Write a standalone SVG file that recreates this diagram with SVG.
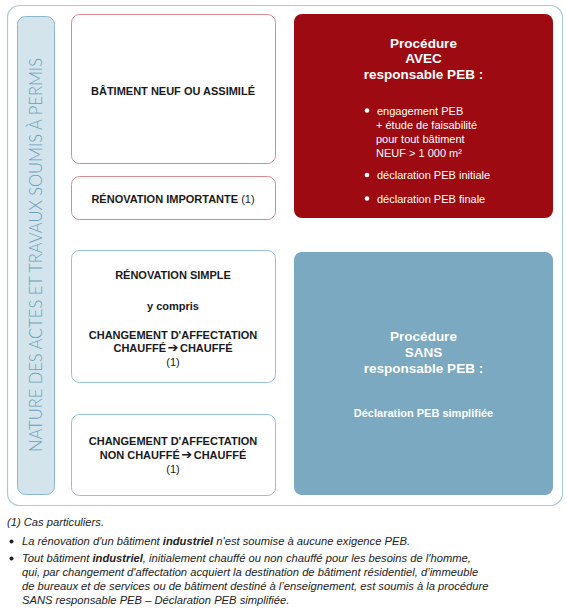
<svg xmlns="http://www.w3.org/2000/svg" width="567" height="609" viewBox="0 0 567 609">
<style>
.t{font-family:"Liberation Sans",Arial,sans-serif;}
.b{font-weight:bold;font-size:11px;fill:#1a1a1a;text-anchor:middle;}
.n{font-weight:normal;}
.wh{fill:#ffffff;font-weight:bold;font-size:13.5px;text-anchor:middle;}
.ws{fill:#ffffff;font-weight:bold;font-size:11px;text-anchor:middle;}
.wl{fill:#ffffff;font-size:11px;}
.ft{font-size:11.2px;font-style:italic;fill:#222222;}
.redbox{fill:#ffffff;stroke:#d58a90;stroke-width:1;}
.bluebox{fill:#ffffff;stroke:#97c0d3;stroke-width:1;}
.arr{font-family:"DejaVu Sans",sans-serif;font-size:13px;}
</style>
<g id="frame">
<rect x="7.5" y="5.5" width="555" height="500" rx="12" fill="#ffffff" stroke="#aacbd9" stroke-width="1.2"/>
</g>
<g id="side-label">
<rect x="17.5" y="16.5" width="37" height="478" rx="8" fill="#d3e4ed" stroke="#8cb6c9" stroke-width="1"/>
<text transform="translate(42,255) rotate(-90)" text-anchor="middle" font-family="Lato,'Open Sans',sans-serif" font-weight="300" font-size="18.5" fill="#6b9fba" textLength="394" lengthAdjust="spacingAndGlyphs">NATURE DES ACTES ET TRAVAUX SOUMIS À PERMIS</text>
</g>
<g id="batiment-neuf">
<rect class="redbox" x="71.5" y="14.5" width="204" height="149" rx="8"/>
<text class="t b" x="173" y="95">BÂTIMENT NEUF OU ASSIMILÉ</text>
</g>
<g id="renovation-importante">
<rect class="redbox" x="71.5" y="176.5" width="204" height="43" rx="8"/>
<text class="t b" x="173" y="203">RÉNOVATION IMPORTANTE <tspan class="n">(1)</tspan></text>
</g>
<g id="procedure-avec">
<rect x="294" y="14" width="259" height="204" rx="8" fill="#9d0a12"/>
<text class="t wh" x="423.5" y="47.5">Procédure</text>
<text class="t wh" x="423.5" y="63">AVEC</text>
<text class="t wh" x="423.5" y="78.5">responsable PEB :</text>
<circle cx="367" cy="110.5" r="2.3" fill="#ffffff"/>
<text class="t wl" x="377" y="114.5">engagement PEB</text>
<text class="t wl" x="376" y="128.5">+ étude de faisabilité</text>
<text class="t wl" x="376" y="142.5">pour tout bâtiment</text>
<text class="t wl" x="376" y="156.5">NEUF &gt; 1 000 m²</text>
<circle cx="367" cy="175" r="2.3" fill="#ffffff"/>
<text class="t wl" x="377" y="179">déclaration PEB initiale</text>
<circle cx="367" cy="198.5" r="2.3" fill="#ffffff"/>
<text class="t wl" x="377" y="202.5">déclaration PEB finale</text>
</g>
<g id="renovation-simple">
<rect class="bluebox" x="71.5" y="250.5" width="204" height="132" rx="8"/>
<text class="t b" x="173" y="279">RÉNOVATION SIMPLE</text>
<text class="t b" x="173" y="309.5">y compris</text>
<text class="t b" x="173" y="338.5">CHANGEMENT D'AFFECTATION</text>
<text class="t b" x="173" y="352">CHAUFFÉ<tspan class="arr" dx="1.5">➔</tspan><tspan dx="1.5">CHAUFFÉ</tspan></text>
<text class="t b n" x="173" y="366">(1)</text>
</g>
<g id="changement-affectation">
<rect class="bluebox" x="71.5" y="414.5" width="204" height="81" rx="8"/>
<text class="t b" x="173" y="445">CHANGEMENT D'AFFECTATION</text>
<text class="t b" x="173" y="458.5">NON CHAUFFÉ<tspan class="arr" dx="1.5">➔</tspan><tspan dx="1.5">CHAUFFÉ</tspan></text>
<text class="t b n" x="173" y="473">(1)</text>
</g>
<g id="procedure-sans">
<rect x="294" y="252" width="259" height="243" rx="8" fill="#7aa9c1"/>
<text class="t wh" x="423.5" y="341">Procédure</text>
<text class="t wh" x="423.5" y="357">SANS</text>
<text class="t wh" x="423.5" y="373">responsable PEB :</text>
<text class="t ws" x="423.5" y="416.5">Déclaration PEB simplifiée</text>
</g>
<g id="connectors"></g>
<g id="footnotes">
<text class="t ft" x="7" y="526">(1) Cas particuliers.</text>
<circle cx="11.5" cy="541.5" r="2" fill="#222222"/>
<text class="t ft" x="22" y="545">La rénovation d'un bâtiment <tspan font-weight="bold">industriel</tspan> n'est soumise à aucune exigence PEB.</text>
<circle cx="11.5" cy="558.5" r="2" fill="#222222"/>
<text class="t ft" x="22" y="562">Tout bâtiment <tspan font-weight="bold">industriel</tspan>, initialement chauffé ou non chauffé pour les besoins de l'homme,</text>
<text class="t ft" x="22" y="576">qui, par changement d'affectation acquiert la destination de bâtiment résidentiel, d’immeuble</text>
<text class="t ft" x="22" y="590">de bureaux et de services ou de bâtiment destiné à l’enseignement, est soumis à la procédure</text>
<text class="t ft" x="22" y="604">SANS responsable PEB – Déclaration PEB simplifiée.</text>
</g>
</svg>
